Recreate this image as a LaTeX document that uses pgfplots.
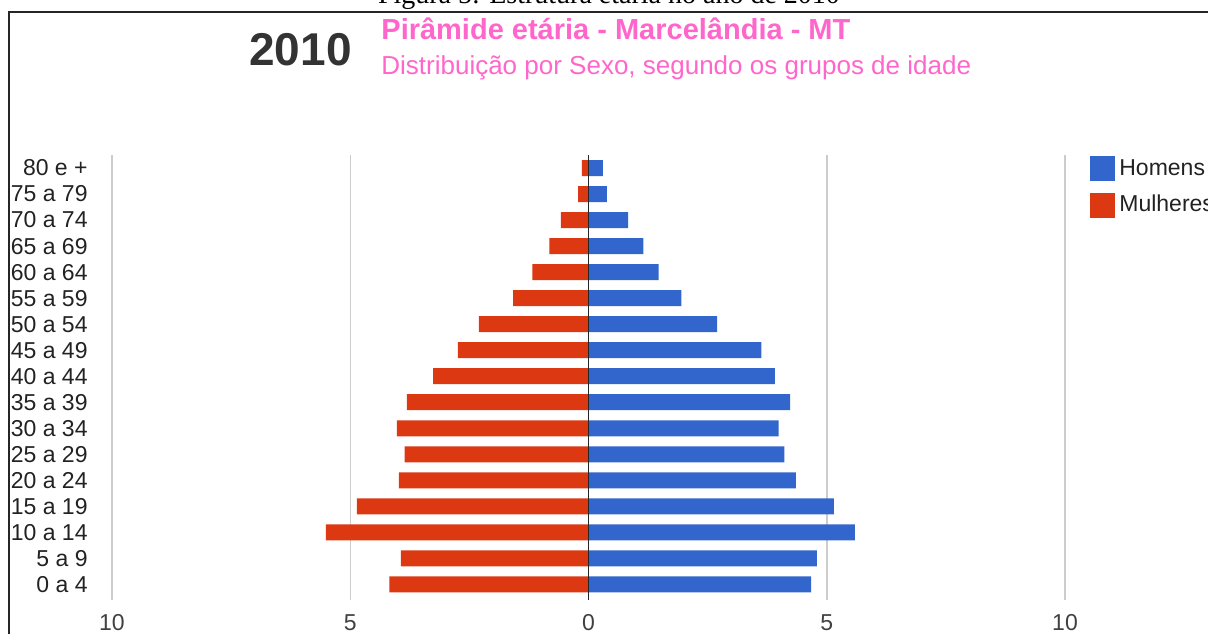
\documentclass[border=0pt]{standalone}
\usepackage{fontspec}
\setmainfont{Liberation Sans}
\newfontfamily\seriffont{Liberation Serif}
\usepackage{pgfplots}
\pgfplotsset{compat=1.18}
\definecolor{hom}{HTML}{3366CC}
\definecolor{mul}{HTML}{DC3912}
\definecolor{pinkt}{HTML}{FF66CC}
\definecolor{gridc}{HTML}{CCCCCC}
\definecolor{txt}{HTML}{222222}
\pgfplotsset{sqlegend/.style={legend image code/.code={\fill[##1] (0pt,-6.25pt) rectangle (12.5pt,6.25pt);}}}
\begin{document}
\begin{tikzpicture}
\clip (0pt,0pt) rectangle (604pt,-316.5pt);
\draw[line width=1pt, black!85] (4.5pt,-330pt) -- (4.5pt,-6pt) -- (620pt,-6pt);
\node[anchor=base, inner sep=0pt, font=\seriffont\fontsize{14}{16}\selectfont] at (304.5pt,-1.75pt) {Figura 5: Estrutura etária no ano de 2010};
\node[anchor=base west, inner sep=0pt, font=\bfseries\fontsize{23}{26}\selectfont, text=black!80] at (124.5pt,-32.5pt) {2010};
\node[anchor=base west, inner sep=0pt, font=\bfseries\fontsize{14.5}{17}\selectfont, text=pinkt] at (190.5pt,-19.5pt) {Pirâmide etária - Marcelândia - MT};
\node[anchor=base west, inner sep=0pt, font=\fontsize{13}{15}\selectfont, text=pinkt] at (190.5pt,-37pt) {Distribuição por Sexo, segundo os grupos de idade};
\begin{axis}[
  at={(56pt,-300pt)}, anchor=south west,
  scale only axis, width=476.5pt, height=222.5pt,
  xbar, bar width=8pt, bar shift=0pt,
  xmin=-10, xmax=10, ymin=-0.6, ymax=16.5,
  xtick={-10,-5,0,5,10}, xticklabels={10,5,0,5,10},
  ytick={0,1,...,16},
  yticklabels={0 a 4,5 a 9,10 a 14,15 a 19,20 a 24,25 a 29,30 a 34,35 a 39,40 a 44,45 a 49,50 a 54,55 a 59,60 a 64,65 a 69,70 a 74,75 a 79,80 e +},
  axis line style={draw=none}, major tick length=0pt,
  xmajorgrids, grid style={gridc, line width=0.75pt},
  tick label style={font=\fontsize{11.5}{13}\selectfont, text=txt},
  xticklabel style={inner sep=0pt, yshift=-7pt, text=black!75},
  yticklabel style={inner sep=0pt, xshift=-12pt},
  legend style={draw=none, fill=none, at={(axis description cs:1.0262,1)}, anchor=north west,
    inner sep=0pt, row sep=4.5pt, font=\fontsize{11.5}{13}\selectfont, text=txt, cells={anchor=west}},
  clip=false,
]
\addplot[fill=hom, draw=none, sqlegend] coordinates {
(4.67,0) (4.79,1) (5.59,2) (5.15,3) (4.35,4) (4.11,5) (3.99,6) (4.23,7) (3.91,8)
(3.63,9) (2.70,10) (1.95,11) (1.47,12) (1.15,13) (0.83,14) (0.385,15) (0.30,16)};
\addlegendentry{Homens}
\addplot[fill=mul, draw=none, sqlegend] coordinates {
(-4.18,0) (-3.94,1) (-5.51,2) (-4.86,3) (-3.98,4) (-3.86,5) (-4.02,6) (-3.81,7) (-3.26,8)
(-2.74,9) (-2.30,10) (-1.58,11) (-1.18,12) (-0.82,13) (-0.58,14) (-0.22,15) (-0.14,16)};
\addlegendentry{Mulheres}
\draw[line width=0.9pt, black!85] (axis cs:0,-0.6) -- (axis cs:0,16.5);
\end{axis}
\end{tikzpicture}
\end{document}
